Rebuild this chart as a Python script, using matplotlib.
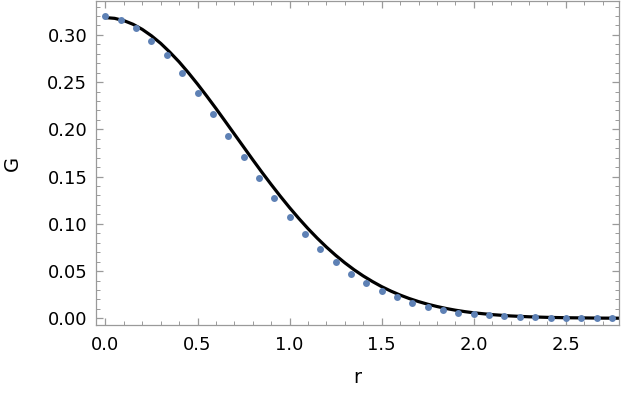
import matplotlib
matplotlib.use("Agg")
import matplotlib.pyplot as plt
from matplotlib.ticker import MultipleLocator, FormatStrFormatter

# Sampled points (r step = 1/12)
pt_r = [i / 12 for i in range(34)]
pt_g = [0.3199, 0.3153, 0.3069, 0.2938, 0.2783, 0.2596, 0.2384, 0.2162,
        0.1932, 0.1707, 0.1481, 0.1270, 0.1072, 0.0892, 0.0733, 0.0596,
        0.0472, 0.0374, 0.0289, 0.0222, 0.0165, 0.0120, 0.0086, 0.0061,
        0.0041, 0.0030, 0.0020, 0.0014, 0.0010, 0.0007, 0.0005, 0.0003,
        0.0002, 0.0001]

# Smooth curve values
curve_r = [0.0, 0.05, 0.1, 0.15, 0.2, 0.25, 0.3, 0.35, 0.4, 0.45, 0.5, 0.55,
           0.6, 0.65, 0.7, 0.75, 0.8, 0.85, 0.9, 0.95, 1.0, 1.05, 1.1, 1.15,
           1.2, 1.25, 1.3, 1.35, 1.4, 1.45, 1.5, 1.55, 1.6, 1.65, 1.7, 1.75,
           1.8, 1.85, 1.9, 1.95, 2.0, 2.1, 2.2, 2.3, 2.4, 2.5, 2.6, 2.7, 2.8]
curve_g = [0.3183, 0.3175, 0.3151, 0.3112, 0.3058, 0.2990, 0.2910, 0.2816,
           0.2714, 0.2600, 0.2479, 0.2352, 0.2221, 0.2086, 0.1950, 0.1814,
           0.1678, 0.1545, 0.1416, 0.1291, 0.1171, 0.1057, 0.0949, 0.0848,
           0.0754, 0.0667, 0.0587, 0.0514, 0.0448, 0.0389, 0.0335, 0.0288,
           0.0246, 0.0209, 0.0177, 0.0149, 0.0125, 0.0104, 0.0086, 0.0071,
           0.0058, 0.0039, 0.0025, 0.0016, 0.0010, 0.0006, 0.0004, 0.0002,
           0.0001]

fig = plt.figure(figsize=(6.23, 4.05), dpi=100)
ax = fig.add_axes([0.1536, 0.1975, 0.8404, 0.7999])

ax.plot(curve_r, curve_g, color="black", lw=2.3, zorder=2,
        solid_joinstyle="round")
ax.plot(pt_r, pt_g, "o", color="#5E81B5", ms=5.0, mec="none", zorder=3)

ax.set_xlim(-0.053, 2.79)
ax.set_ylim(-0.0071, 0.3358)

ax.xaxis.set_major_locator(MultipleLocator(0.5))
ax.xaxis.set_minor_locator(MultipleLocator(0.1))
ax.yaxis.set_major_locator(MultipleLocator(0.05))
ax.yaxis.set_minor_locator(MultipleLocator(0.01))
ax.xaxis.set_major_formatter(FormatStrFormatter("%.1f"))
ax.yaxis.set_major_formatter(FormatStrFormatter("%.2f"))

gray = "#9a9a9a"
for s in ax.spines.values():
    s.set_color(gray)
    s.set_linewidth(0.9)
ax.tick_params(which="both", direction="in", top=True, right=True,
               color=gray, labelsize=13, labelcolor="black")
ax.tick_params(which="major", length=5, width=0.9, pad=6)
ax.tick_params(which="minor", length=2.8, width=0.7)
ax.tick_params(axis="x", labeltop=False, pad=8)
ax.tick_params(axis="y", labelright=False)

ax.set_xlabel("r", fontsize=14, labelpad=10)
ax.set_ylabel("G", fontsize=14, labelpad=18)

fig.savefig("out.png", dpi=100)
